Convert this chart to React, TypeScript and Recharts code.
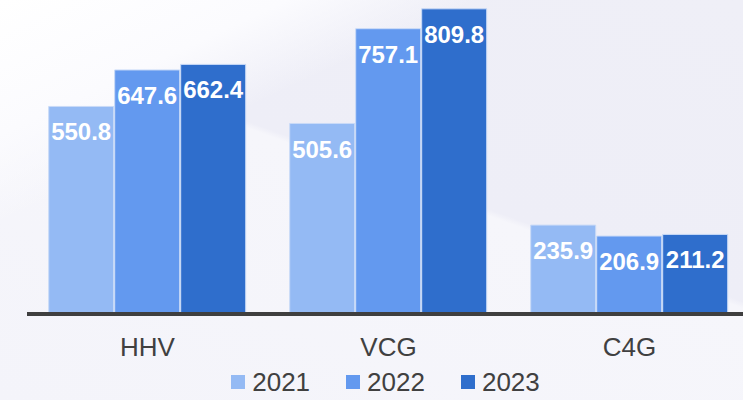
import React from "react";
import { BarChart, Bar, XAxis, YAxis, Legend, LabelList } from "recharts";

const categories = ["HHV", "VCG", "C4G"];
const series2021 = [550.8, 505.6, 235.9];
const series2022 = [647.6, 757.1, 206.9];
const series2023 = [662.4, 809.8, 211.2];
const seriesNames = ["2021", "2022", "2023"];
const seriesColors = ["#94BAF4", "#6399EF", "#2F6ECC"];

const data = categories.map((c, i) => ({
  name: c,
  "2021": series2021[i],
  "2022": series2022[i],
  "2023": series2023[i],
}));

const FONT = "'Liberation Sans', Arial, Helvetica, sans-serif";

const LegendContent = () => (
  <div
    style={{
      display: "flex",
      justifyContent: "center",
      alignItems: "center",
      height: 36,
      fontFamily: FONT,
      fontSize: 26,
      color: "#404040",
      paddingRight: 6,
    }}
  >
    {seriesNames.map((n, i) => (
      <div key={n} style={{ display: "flex", alignItems: "center", marginRight: i < 2 ? 36 : 0 }}>
        <span style={{ display: "inline-block", width: 14, height: 14, background: seriesColors[i], marginRight: 7 }} />
        <span style={{ lineHeight: "36px" }}>{n}</span>
      </div>
    ))}
  </div>
);

export default function App() {
  return (
    <div
      style={{
        position: "absolute",
        left: 0,
        top: 0,
        width: 743,
        height: 400,
        overflow: "hidden",
        background:
          "linear-gradient(155deg, #ffffff 0%, #fbfbfe 18%, rgba(255,255,255,0) 30%), linear-gradient(200deg, #efeff7 0%, #eeeef7 45%, #f6f6fb 46%, #f4f4fa 100%)",
      }}
    >
      <BarChart
        width={770}
        height={400}
        data={data}
        margin={{ top: 5, right: 20, bottom: 0, left: 27 }}
        barCategoryGap="9%"
        barGap={1}
      >
        <XAxis
          dataKey="name"
          axisLine={{ stroke: "#3f3f3f", strokeWidth: 4 }}
          tickLine={false}
          tickSize={0}
          tickMargin={24}
          height={50}
          tick={{ fill: "#404040", fontSize: 26, fontFamily: FONT }}
          interval={0}
        />
        <YAxis hide domain={[0, 820]} />
        <Legend verticalAlign="bottom" height={36} content={<LegendContent />} />
        {seriesNames.map((n, i) => (
          <Bar
            key={n}
            dataKey={n}
            fill={seriesColors[i]}
            stroke="#c9daf7"
            strokeWidth={1}
            isAnimationActive={false}
          >
            <LabelList
              dataKey={n}
              position="insideTop"
              offset={17}
              fill="#ffffff"
              fontSize={24}
              fontWeight="bold"
              fontFamily={FONT}
              formatter={(v: number) => v.toFixed(1)}
            />
          </Bar>
        ))}
      </BarChart>
    </div>
  );
}
